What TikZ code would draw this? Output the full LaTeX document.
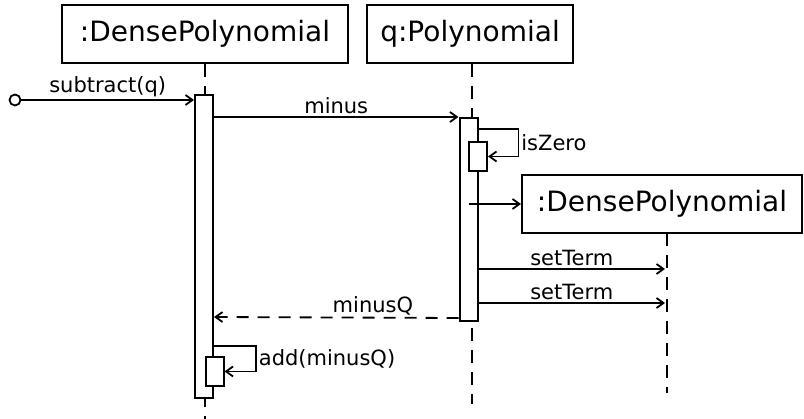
\documentclass[tikz,border=0pt]{standalone}
\usepackage{fontspec}
\setmainfont{DejaVu Sans}
\usetikzlibrary{arrows.meta}

\tikzset{
  objbox/.style={draw, line width=2pt, fill=white, inner sep=0pt,
    minimum height=58pt, font=\fontsize{28}{32}\selectfont},
  actbar/.style={draw, line width=2pt, fill=white, inner sep=0pt, minimum width=18pt},
  lifeline/.style={line width=2pt, dash pattern=on 13pt off 9pt},
  msg/.style={line width=1.8pt, -{Straight Barb[length=7pt,width=10pt,line width=1.8pt]}},
  reply/.style={msg, dash pattern=on 12pt off 9pt},
  lbl/.style={font=\fontsize{21}{24}\selectfont, inner sep=2pt},
}

\begin{document}
\begin{tikzpicture}[x=1pt,y=-1pt]
\useasboundingbox (0,0) rectangle (804,419);

% objects
\node[objbox, minimum width=286pt] (dp) at (205,34) {:DensePolynomial};
\node[objbox, minimum width=206pt] (q) at (470,34) {q:Polynomial};
\node[objbox, minimum width=280pt] (dpnew) at (662,204) {:DensePolynomial};

% lifelines
\draw[lifeline] (205,64) -- (205,419);
\draw[lifeline] (472,64) -- (472,404);
\draw[lifeline] (667,233) -- (667,393);

% activations
\node[actbar, minimum height=303pt] (a1) at (204,246.5) {};
\node[actbar, minimum height=203pt] (a2) at (468.5,219.5) {};
\node[actbar, minimum height=29pt] (z1) at (478,156.5) {};
\node[actbar, minimum height=29pt] (ad) at (214.5,371.5) {};

% found message
\node[circle, draw, line width=1.8pt, minimum size=11pt, inner sep=0pt] (init) at (15,100) {};
\draw[msg] (init) -- (a1.west |- init) node[midway, above, lbl] {subtract(q)};

% calls
\draw[msg] (a1.east |- a2.north west) -- (a2.north west) node[midway, above, lbl] {minus};
\draw[msg] ([yshift=-12pt]a2.north east) -- ++(40,0) |- (z1.east)
  node[pos=0.25, right, lbl] {isZero};
\draw[msg] (a2.center |- dpnew.west) -- (dpnew.west);
\coordinate (t1) at (665,269);
\coordinate (t2) at (665,303);
\draw[msg] (a2.east |- t1) -- (t1) node[midway, above, lbl] {setTerm};
\draw[msg] (a2.east |- t2) -- (t2) node[midway, above, lbl] {setTerm};
\draw[reply] ([yshift=4pt]a2.south west) -- (a1.east |- 0,317)
  node[pos=0.35, above, lbl] {minusQ};
\draw[msg] (a1.east |- 0,346) -- ++(42,0) |- (ad.east)
  node[pos=0.25, right, lbl] {add(minusQ)};
\end{tikzpicture}
\end{document}
